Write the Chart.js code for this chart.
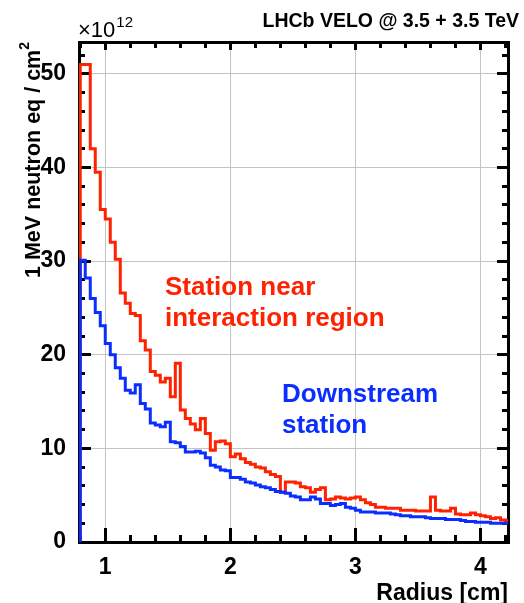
<!DOCTYPE html>
<html>
<head>
<meta charset="utf-8">
<script src="https://cdn.jsdelivr.net/npm/chart.js@4/dist/chart.umd.min.js"></script>
<style>
  html, body { margin: 0; padding: 0; background: #ffffff; }
  #wrap { width: 524px; height: 603px; }
</style>
</head>
<body>
<div id="wrap"><canvas id="c" width="524" height="603"></canvas></div>
<script>
// Fluence histograms vs. radius (1 MeV neutron equivalent, x10^12 per cm^2)
const binStart = 0.80;   // cm, lower edge of the first bin
const binWidth = 0.04;   // cm

// Station near the interaction region
const nearIP = [
  51.0, 51.0, 42.0, 39.5, 35.5, 34.5, 32.0, 30.2, 26.6, 25.5,
  24.4, 24.2, 21.5, 20.5, 18.2, 17.8, 17.1, 17.5, 15.5, 19.1,
  14.1, 13.2, 12.6, 12.0, 13.2, 11.6, 9.8, 10.7, 10.8, 10.5,
  9.1, 9.4, 8.9, 8.5, 8.3, 8.0, 7.9, 7.5, 7.2, 7.0,
  5.3, 6.4, 6.4, 6.3, 5.9, 5.8, 5.3, 5.6, 5.8, 4.5,
  4.6, 4.8, 4.7, 4.6, 4.7, 4.8, 4.5, 4.2, 4.0, 3.7,
  3.7, 3.6, 3.6, 3.6, 3.4, 3.4, 3.4, 3.3, 3.3, 3.3,
  4.8, 3.4, 3.3, 3.3, 3.6, 3.0, 2.9, 2.9, 3.1, 2.9,
  2.8, 2.7, 2.5, 2.6, 2.35, 2.3
];

// Downstream station
const downstream = [
  30.1, 28.2, 26.0, 24.5, 23.1, 21.2, 20.0, 18.6, 17.5, 16.2,
  15.9, 16.8, 14.8, 14.2, 12.7, 12.5, 12.3, 12.8, 10.7, 10.6,
  10.2, 9.6, 9.6, 9.7, 9.5, 9.0, 8.2, 8.0, 7.7, 7.6,
  6.9, 6.9, 6.7, 6.4, 6.3, 6.1, 5.9, 5.8, 5.6, 5.4,
  5.3, 5.2, 4.9, 4.8, 4.5, 4.5, 4.8, 4.6, 4.1, 4.1,
  3.9, 4.0, 4.1, 3.7, 3.6, 3.4, 3.2, 3.2, 3.2, 3.1,
  3.1, 3.1, 3.0, 2.9, 2.8, 2.8, 2.7, 2.7, 2.7, 2.6,
  2.5, 2.5, 2.5, 2.4, 2.4, 2.4, 2.3, 2.2, 2.2, 2.1,
  2.1, 2.1, 2.0, 2.0, 2.0, 2.0
];

const xRange = [0.79, 4.22];
const yRange = [0, 53.4];
const xMajor = [1, 2, 3, 4];
const yMajor = [0, 10, 20, 30, 40, 50];
// minor tick values: every 0.2 cm and every 2 units
const xMinor = [0.8, 1.2, 1.4, 1.6, 1.8, 2.2, 2.4, 2.6, 2.8, 3.2, 3.4, 3.6, 3.8, 4.2];
const yMinor = [2, 4, 6, 8, 12, 14, 16, 18, 22, 24, 26, 28, 32, 34, 36, 38, 42, 44, 46, 48, 52];

const RED = '#ff2200';
const BLUE = '#0a2eff';
const GRID = '#c4c4c4';
const FONT = '"Liberation Sans", Arial, Helvetica, sans-serif';

// Histogram outline: rise from zero at the first edge, one point per bin lower edge,
// and a closing point at the upper edge of the last bin.
function histPoints(vals) {
  const pts = [{ x: binStart, y: 0 }];
  vals.forEach((v, i) => pts.push({ x: binStart + i * binWidth, y: v }));
  pts.push({ x: binStart + vals.length * binWidth, y: vals[vals.length - 1] });
  return pts;
}

// An extra zero-size axis that only contributes inward tick marks (and optionally a frame side)
function tickAxis(axis, position, values, length, frame) {
  const range = axis === 'x' ? xRange : yRange;
  return {
    type: 'linear',
    axis: axis,
    position: position,
    weight: 0,
    min: range[0],
    max: range[1],
    afterFit(s) { if (axis === 'x') s.height = 0; else s.width = 0; },
    afterBuildTicks(s) { s.ticks = values.map(v => ({ value: v })); },
    grid: {
      drawOnChartArea: false,
      drawTicks: true,
      tickLength: -length,
      tickWidth: 3,
      tickColor: '#000000'
    },
    border: { display: !!frame, color: '#000000', width: 3 },
    ticks: { display: false }
  };
}

// Axis titles, exponent, header and curve captions
const textPlugin = {
  id: 'texts',
  afterDraw(chart) {
    const { ctx, chartArea: a } = chart;
    ctx.save();
    ctx.fillStyle = '#000';
    ctx.textBaseline = 'alphabetic';

    ctx.font = 'bold 19.5px ' + FONT;
    ctx.textAlign = 'right';
    ctx.fillText('LHCb VELO @ 3.5 + 3.5 TeV', 519, 27);

    ctx.textAlign = 'left';
    ctx.font = '22px ' + FONT;
    ctx.fillText('\u00d710', a.left - 1, 37);
    const w10 = ctx.measureText('\u00d710').width;
    ctx.font = '15px ' + FONT;
    ctx.fillText('12', a.left - 1 + w10 + 1, 27);

    ctx.font = 'bold 23px ' + FONT;
    ctx.textAlign = 'right';
    ctx.fillText('Radius [cm]', a.right, 600);

    ctx.translate(34, 42);
    ctx.rotate(-Math.PI / 2);
    ctx.font = 'bold 14px ' + FONT;
    const ws = ctx.measureText('2').width;
    ctx.textBaseline = 'middle';
    ctx.textAlign = 'left';
    ctx.fillText('2', -ws, -9);
    ctx.font = 'bold 21.5px ' + FONT;
    ctx.textAlign = 'right';
    ctx.fillText('1 MeV neutron eq / cm', -ws, 0);
    ctx.setTransform(1, 0, 0, 1, 0, 0);

    ctx.textBaseline = 'alphabetic';
    ctx.textAlign = 'left';
    ctx.font = 'bold 26px ' + FONT;
    ctx.fillStyle = RED;
    ctx.fillText('Station near', 165, 295);
    ctx.fillText('interaction region', 165, 326);
    ctx.fillStyle = BLUE;
    ctx.fillText('Downstream', 282, 402);
    ctx.fillText('station', 282, 433);
    ctx.restore();
  }
};

new Chart(document.getElementById('c'), {
  type: 'line',
  data: {
    datasets: [
      {
        label: 'Downstream station',
        data: histPoints(downstream),
        xAxisID: 'x',
        yAxisID: 'y',
        borderColor: BLUE,
        borderWidth: 3,
        stepped: true,
        pointRadius: 0,
        fill: false,
        order: 0
      },
      {
        label: 'Station near interaction region',
        data: histPoints(nearIP),
        xAxisID: 'x',
        yAxisID: 'y',
        borderColor: RED,
        borderWidth: 3,
        stepped: true,
        pointRadius: 0,
        fill: false,
        order: 1
      }
    ]
  },
  options: {
    responsive: false,
    animation: false,
    devicePixelRatio: 1,
    layout: { padding: { top: 42, right: 16, left: 0, bottom: 0 } },
    plugins: { legend: { display: false }, tooltip: { enabled: false } },
    scales: {
      x: {
        type: 'linear',
        axis: 'x',
        position: 'bottom',
        weight: 1,
        min: xRange[0],
        max: xRange[1],
        afterFit(s) { s.height = 61; },
        afterBuildTicks(s) { s.ticks = xMajor.map(v => ({ value: v })); },
        grid: {
          color: GRID,
          lineWidth: 1,
          drawTicks: true,
          tickLength: -14,
          tickWidth: 3,
          tickColor: '#000000'
        },
        border: { display: true, color: '#000000', width: 3 },
        ticks: {
          color: '#000',
          padding: 26,
          maxRotation: 0,
          autoSkip: false,
          font: { family: FONT, size: 23, weight: 'bold' },
          callback: v => String(v)
        }
      },
      y: {
        type: 'linear',
        axis: 'y',
        position: 'left',
        weight: 1,
        min: yRange[0],
        max: yRange[1],
        afterFit(s) { s.width = 79; },
        afterBuildTicks(s) { s.ticks = yMajor.map(v => ({ value: v })); },
        grid: {
          color: GRID,
          lineWidth: 1,
          drawTicks: true,
          tickLength: -12,
          tickWidth: 3,
          tickColor: '#000000'
        },
        border: { display: true, color: '#000000', width: 3 },
        ticks: {
          color: '#000',
          padding: 25,
          autoSkip: false,
          font: { family: FONT, size: 23, weight: 'bold' },
          callback: v => String(v)
        }
      },
      xMinorBottom: tickAxis('x', 'bottom', xMinor, 7, false),
      xMajorTop: tickAxis('x', 'top', xMajor, 8, true),
      xMinorTop: tickAxis('x', 'top', xMinor, 6, false),
      yMinorLeft: tickAxis('y', 'left', yMinor, 6, false),
      yMajorRight: tickAxis('y', 'right', yMajor, 11, true),
      yMinorRight: tickAxis('y', 'right', yMinor, 6, false)
    }
  },
  plugins: [textPlugin]
});
</script>
</body>
</html>
